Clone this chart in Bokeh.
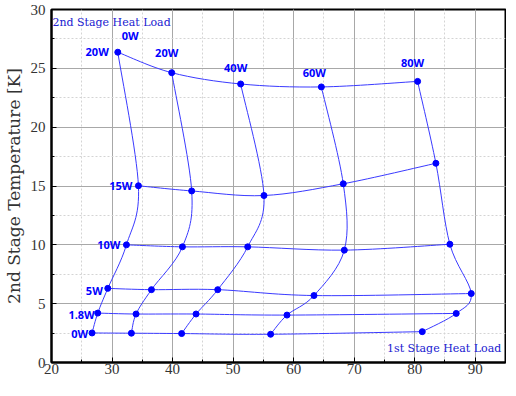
from bokeh.plotting import figure
from bokeh.models import SingleIntervalTicker, Range1d, Label, ColumnDataSource
from bokeh.embed import file_html
from bokeh.resources import INLINE

# 1st stage heat load (columns) and 2nd stage heat load (rows)
first_stage_loads = ["0W", "20W", "40W", "60W", "80W"]
second_stage_loads = ["0W", "1.8W", "5W", "10W", "15W", "20W"]

# 1st stage temperature [K] per row (x) and 2nd stage temperature [K] per row (y)
t1_q2_0W = [26.7, 33.2, 41.5, 56.2, 81.25]
t2_q2_0W = [2.51, 2.49, 2.46, 2.40, 2.62]
t1_q2_1p8W = [27.64, 33.97, 43.88, 58.9, 86.86]
t2_q2_1p8W = [4.20, 4.12, 4.12, 4.03, 4.17]
t1_q2_5W = [29.3, 36.51, 47.46, 63.36, 89.34]
t2_q2_5W = [6.30, 6.19, 6.19, 5.69, 5.86]
t1_q2_10W = [32.38, 41.63, 52.41, 68.37, 85.81]
t2_q2_10W = [10.0, 9.83, 9.83, 9.55, 10.05]
t1_q2_15W = [34.36, 43.16, 55.1, 68.2, 83.5]
t2_q2_15W = [15.02, 14.58, 14.19, 15.19, 16.93]
t1_q2_20W = [30.95, 39.86, 51.25, 64.58, 80.48]
t2_q2_20W = [26.37, 24.63, 23.67, 23.42, 23.89]

x_ticks_major = 10
y_ticks_major = 5

rows_x = [t1_q2_0W, t1_q2_1p8W, t1_q2_5W, t1_q2_10W, t1_q2_15W, t1_q2_20W]
rows_y = [t2_q2_0W, t2_q2_1p8W, t2_q2_5W, t2_q2_10W, t2_q2_15W, t2_q2_20W]

BLUE_LINE = "#3a3aff"
BLUE = "#0000ff"

p = figure(frame_width=454, frame_height=353, output_backend="svg", toolbar_location=None,
           x_range=Range1d(20, 95), y_range=Range1d(0, 30),
           min_border_left=0, min_border_right=1, min_border_top=9, min_border_bottom=0)
p.background_fill_color = "white"
p.border_fill_color = "white"
p.outline_line_color = "black"
p.outline_line_width = 2
p.outline_line_alpha = 1


def catmull_bezier(xs, ys):
    x0s, y0s, x1s, y1s, cx0, cy0, cx1, cy1 = [], [], [], [], [], [], [], []
    n = len(xs)
    for i in range(n - 1):
        pa = (xs[max(i - 1, 0)], ys[max(i - 1, 0)])
        pb = (xs[i], ys[i])
        pc = (xs[i + 1], ys[i + 1])
        pd = (xs[min(i + 2, n - 1)], ys[min(i + 2, n - 1)])
        x0s.append(pb[0]); y0s.append(pb[1])
        x1s.append(pc[0]); y1s.append(pc[1])
        cx0.append(pb[0] + (pc[0] - pa[0]) / 6.0)
        cy0.append(pb[1] + (pc[1] - pa[1]) / 6.0)
        cx1.append(pc[0] - (pd[0] - pb[0]) / 6.0)
        cy1.append(pc[1] - (pd[1] - pb[1]) / 6.0)
    return dict(x0=x0s, y0=y0s, x1=x1s, y1=y1s, cx0=cx0, cy0=cy0, cx1=cx1, cy1=cy1)


curves = []
for xs, ys in zip(rows_x, rows_y):
    curves.append(catmull_bezier(xs, ys))
for j in range(len(first_stage_loads)):
    cx = [r[j] for r in rows_x]
    cy = [r[j] for r in rows_y]
    curves.append(catmull_bezier(cx, cy))

for c in curves:
    p.bezier(x0="x0", y0="y0", x1="x1", y1="y1", cx0="cx0", cy0="cy0", cx1="cx1", cy1="cy1",
             source=ColumnDataSource(c), line_color=BLUE_LINE, line_width=1)

all_x = [v for r in rows_x for v in r]
all_y = [v for r in rows_y for v in r]
p.scatter(all_x, all_y, size=6, color=BLUE, marker="circle")

lab_font = "Open Sans"
# 2nd stage load labels, left of the 0W column
left_offsets_x = [-4, -3, -5, -6, -6, -9]
left_offsets_y = [-1, -1, -2, 0, 0, 1]
for k, name in enumerate(second_stage_loads):
    p.add_layout(Label(x=rows_x[k][0], y=rows_y[k][0], text=name,
                       x_offset=left_offsets_x[k], y_offset=left_offsets_y[k],
                       text_align="right", text_baseline="middle",
                       text_font=lab_font, text_font_style="bold",
                       text_font_size="11px", text_color=BLUE))
# 1st stage load labels, above the 20W row
top_offsets_x = [4, -5, -5, -7, -5]
top_offsets_y = [9, 13, 9, 7, 11]
top_align = ["left", "center", "center", "center", "center"]
for j, name in enumerate(first_stage_loads):
    p.add_layout(Label(x=t1_q2_20W[j], y=t2_q2_20W[j], text=name,
                       x_offset=top_offsets_x[j], y_offset=top_offsets_y[j],
                       text_align=top_align[j], text_baseline="bottom",
                       text_font=lab_font, text_font_style="bold",
                       text_font_size="11px", text_color=BLUE))

serif = "DejaVu Serif"
p.add_layout(Label(x=20.15, y=28.9, text="2nd Stage Heat Load", text_align="left",
                   text_baseline="middle", text_font=serif, text_font_size="11px",
                   text_color="#2020d0"))
p.add_layout(Label(x=94.3, y=1.15, text="1st Stage Heat Load", text_align="right",
                   text_baseline="middle", text_font=serif, text_font_size="11px",
                   text_color="#2020d0"))

p.xaxis.ticker = SingleIntervalTicker(interval=x_ticks_major, num_minor_ticks=2)
p.yaxis.ticker = SingleIntervalTicker(interval=y_ticks_major, num_minor_ticks=2)

p.xgrid.grid_line_color = "#a8a8a8"
p.ygrid.grid_line_color = "#a8a8a8"
p.xgrid.grid_line_width = 1
p.ygrid.grid_line_width = 1
p.xgrid.minor_grid_line_color = "#d4d4d4"
p.ygrid.minor_grid_line_color = "#d4d4d4"
p.xgrid.minor_grid_line_dash = "2 2"
p.ygrid.minor_grid_line_dash = "2 2"

for ax in (p.xaxis, p.yaxis):
    ax.axis_line_color = "black"
    ax.axis_line_width = 2
    ax.major_tick_in = 5
    ax.major_tick_out = 0
    ax.minor_tick_in = 3
    ax.minor_tick_out = 0
    ax.major_tick_line_color = "black"
    ax.minor_tick_line_color = "black"
    ax.major_label_text_font = "Liberation Serif"
    ax.major_label_text_font_size = "15px"
    ax.major_label_text_color = "#333333"

p.xaxis.major_label_standoff = 1
p.yaxis.major_label_standoff = 6
p.yaxis.axis_label = "2nd Stage Temperature [K]"
p.yaxis.axis_label_text_font = serif
p.yaxis.axis_label_text_font_size = "17px"
p.yaxis.axis_label_text_font_style = "normal"
p.yaxis.axis_label_text_color = "#333333"
p.yaxis.axis_label_standoff = 4

open("out.html", "w").write(file_html(p, INLINE))
